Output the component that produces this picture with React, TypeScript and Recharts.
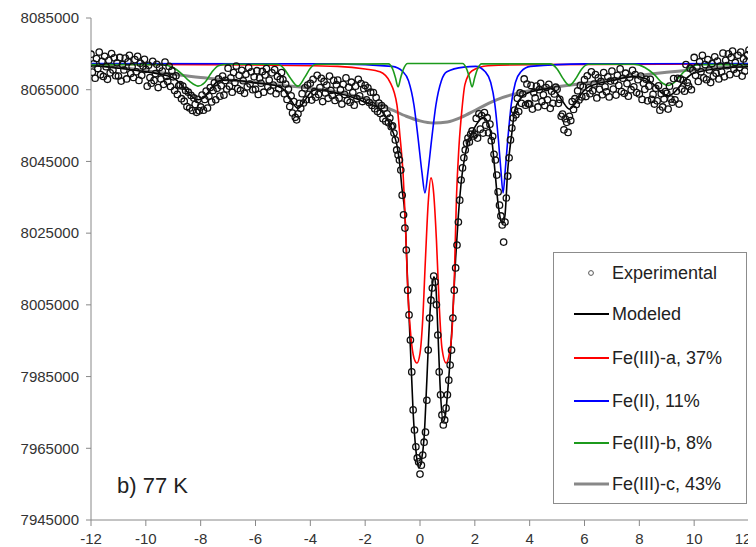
import type { FC } from "react";
import { ComposedChart, Line, Scatter, XAxis, YAxis } from "recharts";

// velocity grid of the experimental channels (mm/s)
const VEL_START = -12;
const VEL_STEP = 0.05;

const experimental = [
  8074900, 8069900, 8072200, 8068200, 8073700, 8070900, 8075500, 8069200, 8072900, 8068700, 8074300, 8071400, 8067900, 8073200, 8069700, 8075100, 8070500, 8073900, 8068900, 8072500,
  8068800, 8074000, 8067400, 8072000, 8070500, 8073800, 8068000, 8072800, 8074600, 8069500, 8071400, 8068400, 8073400, 8070000, 8074300, 8067600, 8072400, 8069000, 8071600, 8073500,
  8070700, 8066000, 8071800, 8068400, 8066800, 8072900, 8067600, 8069500, 8072100, 8065600, 8071200, 8068000, 8070200, 8066500, 8072700, 8068700, 8067300, 8071500, 8065900, 8070300,
  8068600, 8064800, 8068900, 8063700, 8066100, 8066400, 8062500, 8066000, 8061800, 8064800, 8060300, 8064300, 8059900, 8063400, 8059200, 8062700, 8060900, 8058700, 8062300, 8059100,
  8060200, 8063500, 8059300, 8062300, 8064600, 8059900, 8063200, 8065600, 8061600, 8064800, 8066900, 8062200, 8065400, 8068000, 8063200, 8066100, 8068800, 8063500, 8067600, 8065200,
  8071000, 8066000, 8068300, 8064300, 8069800, 8067000, 8071600, 8065300, 8069000, 8064800, 8070400, 8067500, 8064000, 8069300, 8065800, 8071200, 8066600, 8070000, 8065000, 8068600,
  8065100, 8070300, 8063700, 8068300, 8066800, 8070100, 8064300, 8069100, 8070900, 8065800, 8067700, 8064700, 8069700, 8066300, 8070600, 8063900, 8068700, 8065300, 8067900, 8069800,
  8067800, 8063900, 8066600, 8062300, 8065200, 8060300, 8063300, 8058500, 8061700, 8057300, 8056600, 8058300, 8061200, 8059800, 8063900, 8061300, 8065500, 8062200, 8066300, 8063700,
  8066800, 8062100, 8067900, 8064500, 8062900, 8069000, 8063700, 8065600, 8068200, 8061700, 8067300, 8064100, 8066300, 8062600, 8068800, 8064800, 8063400, 8067600, 8062000, 8066400,
  8067700, 8062700, 8065000, 8061000, 8066500, 8063700, 8068300, 8062000, 8065700, 8061500, 8067100, 8064200, 8060700, 8066000, 8062500, 8067900, 8063300, 8066700, 8061700, 8065300,
  8066200, 8062200, 8065500, 8061400, 8064300, 8060600, 8064200, 8059700, 8062800, 8058900, 8061300, 8058400, 8060600, 8056900, 8059900, 8056200, 8058300, 8055800, 8057100, 8054700,
  8054900, 8052900, 8051000, 8048200, 8046800, 8045400, 8042600, 8035600, 8030100, 8026400, 8020300, 8009100, 8002200, 7995200, 7986300, 7975700, 7970100, 7965400, 7962300, 7961200,
  7957800, 7960300, 7963100, 7966700, 7969500, 7978400, 7992400, 8001300, 8006300, 8009700, 8013000, 8011400, 8005000, 7996600, 7986300, 7979900, 7974300, 7971500, 7972900, 7976200,
  7979900, 7984000, 7988200, 7992400, 8001300, 8009100, 8015300, 8021700, 8028100, 8034200, 8039800, 8043200, 8046000, 8048200, 8050100, 8051500, 8050400, 8052600, 8053500, 8052100,
  8052600, 8057000, 8051500, 8058300, 8054000, 8057800, 8052900, 8058600, 8055100, 8057200, 8053000, 8055400, 8050800, 8052000, 8047000, 8045400, 8041200, 8036500, 8032800, 8029800,
  8027300, 8022500, 8028100, 8034800, 8040900, 8046000, 8051000, 8054300, 8057100, 8059300, 8058000, 8062600, 8058900, 8064100, 8061200, 8063800, 8068000, 8060700, 8066600, 8061100,
  8061000, 8066200, 8059600, 8064200, 8062700, 8066000, 8060200, 8065000, 8066800, 8061700, 8063600, 8060600, 8065600, 8062200, 8066500, 8059800, 8064600, 8061200, 8063800, 8065700,
  8065100, 8061200, 8062300, 8057600, 8058200, 8053800, 8056900, 8055900, 8053100, 8057600, 8056400, 8061700, 8059500, 8062500, 8060900, 8064700, 8062100, 8066200, 8063000, 8065800,
  8067800, 8063100, 8068900, 8065500, 8063900, 8070000, 8064700, 8066600, 8069200, 8062700, 8068300, 8065100, 8067300, 8063600, 8069800, 8065800, 8064400, 8068600, 8063000, 8067400,
  8070200, 8065200, 8067500, 8063500, 8069000, 8066200, 8070800, 8064500, 8068200, 8064000, 8069600, 8066700, 8063200, 8068500, 8065000, 8070400, 8065800, 8069200, 8064200, 8067800,
  8063800, 8068800, 8062300, 8066800, 8065100, 8067900, 8061900, 8066000, 8067900, 8062300, 8063700, 8061000, 8065400, 8061900, 8066100, 8059300, 8063900, 8060200, 8062400, 8064500,
  8064000, 8059600, 8066000, 8062400, 8061500, 8068100, 8062200, 8064600, 8068200, 8061000, 8068000, 8065200, 8067600, 8064600, 8072000, 8067000, 8066000, 8071000, 8065000, 8070400,
  8074000, 8069000, 8071300, 8067300, 8072800, 8070000, 8074600, 8068300, 8072000, 8067800, 8073400, 8070500, 8067000, 8072300, 8068800, 8074200, 8069600, 8073000, 8068000, 8071600,
  8070000, 8075200, 8068600, 8073200, 8071700, 8075000, 8069200, 8074000, 8075800, 8070700, 8072600, 8069600, 8074600, 8071200, 8075500, 8068800, 8073600, 8070200, 8072800, 8074700, 8076100,
];

// fitted curves, [velocity, counts]
const modeled: [number, number][] = [
  [-12, 8071800], [-11, 8071000], [-10, 8070000], [-9.4, 8069200], [-9, 8068300], [-8.7, 8066400], [-8.4, 8063600],
  [-8.1, 8062200], [-7.85, 8063000], [-7.6, 8065600], [-7.35, 8067400], [-7, 8067700], [-6, 8066900], [-5.2, 8066000],
  [-4.95, 8064900], [-4.75, 8062600], [-4.45, 8059800], [-4.2, 8062000], [-4, 8064200], [-3.8, 8065000], [-3, 8064000],
  [-2.5, 8063000], [-2, 8061500], [-1.46, 8059500], [-1.17, 8056500], [-1, 8053500], [-0.84, 8049500], [-0.75, 8045000],
  [-0.66, 8037600], [-0.55, 8030000], [-0.45, 8011000], [-0.35, 7993000], [-0.25, 7975000], [-0.15, 7964500],
  [-0.04, 7959500], [0.05, 7961500], [0.15, 7968000], [0.25, 7984000], [0.35, 8001000], [0.45, 8010500], [0.51, 8012800],
  [0.58, 8010000], [0.65, 7998000], [0.75, 7980000], [0.84, 7972500], [0.92, 7974000], [1, 7980000], [1.1, 7990000],
  [1.2, 8003000], [1.3, 8018000], [1.4, 8030000], [1.53, 8041000], [1.65, 8047000], [1.75, 8050500], [1.9, 8053000],
  [2, 8054600], [2.15, 8056300], [2.3, 8057300], [2.48, 8055700], [2.62, 8051000], [2.73, 8042600], [2.85, 8033000],
  [2.95, 8028500], [3.03, 8027800], [3.1, 8030000], [3.2, 8042600], [3.35, 8052900], [3.46, 8059300], [3.72, 8063000],
  [4.08, 8064500], [4.75, 8065300], [5, 8064100], [5.2, 8061800], [5.45, 8059600], [5.7, 8061600], [5.9, 8064000],
  [6.15, 8065800], [7, 8067500], [7.8, 8068700], [8.2, 8068200], [8.55, 8066300], [8.85, 8063900], [9.05, 8063300],
  [9.3, 8064400], [9.6, 8067200], [9.9, 8069300], [10.2, 8070000], [11, 8071000], [12, 8071400],
];

const feIIIa: [number, number][] = [
  [-12, 8072100], [-6, 8071900], [-3, 8071500], [-2, 8070800], [-1.46, 8070000], [-1.1, 8067200], [-0.84, 8060700],
  [-0.73, 8052000], [-0.62, 8042000], [-0.52, 8025000], [-0.44, 8008000], [-0.33, 7996000], [-0.22, 7990200],
  [-0.11, 7988800], [0, 7991500], [0.1, 8001000], [0.2, 8018000], [0.3, 8033500], [0.4, 8040400], [0.5, 8036000],
  [0.6, 8023000], [0.7, 8005000], [0.8, 7993000], [0.95, 7988800], [1.06, 7991000], [1.17, 7998000], [1.25, 8012000],
  [1.33, 8035000], [1.42, 8049000], [1.53, 8059500], [1.64, 8066500], [1.9, 8070300], [2.48, 8071700], [4, 8072000],
  [12, 8072200],
];

const feII: [number, number][] = [
  [-12, 8072300], [-3, 8072200], [-1.02, 8071500], [-0.62, 8070000], [-0.42, 8067500], [-0.22, 8060700], [-0.07, 8051500],
  [0.07, 8042000], [0.18, 8036200], [0.29, 8042000], [0.43, 8051500], [0.58, 8060700], [0.78, 8067500], [0.98, 8070000],
  [1.6, 8071300], [2.03, 8071500], [2.38, 8070000], [2.58, 8067000], [2.73, 8061000], [2.86, 8051000], [2.95, 8042600],
  [3.03, 8036200], [3.11, 8042600], [3.2, 8051000], [3.33, 8061000], [3.48, 8067000], [3.68, 8070000], [4.03, 8071500],
  [6, 8072200], [12, 8072300],
];

const feIIIb: [number, number][] = [
  [-12, 8072000], [-9.4, 8072000], [-9, 8071200], [-8.7, 8069500], [-8.4, 8067300], [-8.1, 8066000], [-7.85, 8067000],
  [-7.6, 8069800], [-7.35, 8071700], [-7, 8072100], [-5.2, 8072100], [-4.95, 8070800], [-4.75, 8068500], [-4.45, 8066000],
  [-4.2, 8068500], [-4, 8071000], [-3.8, 8072100], [-1.15, 8072200], [-1, 8070800], [-0.9, 8068500], [-0.8, 8065800],
  [-0.7, 8068500], [-0.6, 8070800], [-0.45, 8072300], [1.55, 8072300], [1.7, 8070800], [1.8, 8068500], [1.9, 8065800],
  [2, 8068500], [2.1, 8070800], [2.25, 8072200], [4.75, 8072200], [5, 8070800], [5.2, 8068300], [5.45, 8066200],
  [5.7, 8068300], [5.9, 8070800], [6.15, 8072100], [7.8, 8072100], [8.2, 8071200], [8.55, 8069200], [8.85, 8066800],
  [9.05, 8066200], [9.3, 8067200], [9.6, 8069800], [9.9, 8071500], [10.2, 8072000], [12, 8072000],
];

const feIIIc: [number, number][] = [
  [-12, 8072000], [-11, 8071300], [-10, 8070300], [-9, 8069300], [-8, 8068400], [-7, 8067700], [-6, 8067000],
  [-5, 8066200], [-4, 8065400], [-3, 8064300], [-2, 8062500], [-1.5, 8061000], [-1, 8059300], [-0.5, 8057600],
  [0, 8056300], [0.5, 8055700], [1, 8056000], [1.5, 8057300], [2, 8059200], [2.5, 8061200], [3, 8062800], [3.5, 8063900],
  [4, 8064700], [5, 8065800], [6, 8066800], [7, 8067900], [8, 8069000], [9, 8069900], [10, 8070600], [11, 8071200],
  [12, 8071600],
];

const xTicks = [-12, -10, -8, -6, -4, -2, 0, 2, 4, 6, 8, 10, 12];
const yTicks = [7945000, 7965000, 7985000, 8005000, 8025000, 8045000, 8065000, 8085000];

const legendItems = [
  { label: "Experimental", color: "#555", kind: "dot" },
  { label: "Modeled", color: "#000", kind: "line" },
  { label: "Fe(III)-a, 37%", color: "#ff0000", kind: "line" },
  { label: "Fe(II), 11%", color: "#0000ff", kind: "line" },
  { label: "Fe(III)-b, 8%", color: "#1c9a1c", kind: "line" },
  { label: "Fe(III)-c, 43%", color: "#888", kind: "thick" },
];

const FONT = "'Liberation Sans', Arial, sans-serif";
const toPoints = (pairs: [number, number][]) => pairs.map(([x, y]) => ({ x, y }));
const expPoints = experimental.map((y, i) => ({ x: VEL_START + i * VEL_STEP, y }));

const tickStyle = { fontSize: 15, fill: "#333", fontFamily: FONT };

const OpenDot = (props: any) => (
  <circle cx={props.cx} cy={props.cy} r={3.2} fill="none" stroke="#111" strokeWidth={1.3} />
);

// last label sits a little inside the edge, as in the original
const VelocityTick = (props: any) => {
  const { x, y, payload } = props;
  const shift = payload.value === 12 ? -5 : 0;
  return (
    <text x={x + shift} y={y} dy="0.71em" textAnchor="middle" {...tickStyle}>
      {payload.value}
    </text>
  );
};

const LegendBox: FC = () => (
  <div
    style={{
      position: "absolute",
      left: 545,
      top: 244,
      width: 194,
      height: 252,
      boxSizing: "border-box",
      border: "1px solid #8c8c8c",
      background: "#fff",
      fontFamily: FONT,
    }}
  >
    {legendItems.map((item, i) => {
      const cy = [20, 61, 105, 148, 190, 231][i];
      return (
        <div key={item.label} style={{ position: "absolute", left: 0, top: cy - 11, height: 22, width: 190 }}>
          <svg width={58} height={22} style={{ position: "absolute", left: 0, top: 0 }}>
            {item.kind === "dot" ? (
              <circle cx={37} cy={11} r={2.4} fill="none" stroke={item.color} strokeWidth={1} />
            ) : (
              <line x1={20} x2={55} y1={11} y2={11} stroke={item.color} strokeWidth={item.kind === "thick" ? 3 : 2} />
            )}
          </svg>
          <span style={{ position: "absolute", left: 58, top: 0, lineHeight: "22px", fontSize: 18, color: "#222", whiteSpace: "nowrap" }}>
            {item.label}
          </span>
        </div>
      );
    })}
  </div>
);

export default function App() {
  return (
    <div style={{ position: "relative", width: 748, height: 539 }}>
      <style>{"html, body { overflow: hidden; }"}</style>
      <ComposedChart width={748} height={539} margin={{ top: 10, right: 7, bottom: 0, left: 0 }}>
        <XAxis
          type="number"
          dataKey="x"
          domain={[-12, 12]}
          ticks={xTicks}
          allowDataOverflow
          height={27}
          tick={VelocityTick}
          tickSize={6}
          tickMargin={7}
          stroke="#888"
        />
        <YAxis
          type="number"
          dataKey="y"
          domain={[7945000, 8085000]}
          ticks={yTicks}
          allowDataOverflow
          width={83}
          tick={tickStyle}
          tickSize={5}
          tickMargin={7}
          stroke="#888"
        />
        <Scatter data={expPoints} shape={OpenDot} isAnimationActive={false} />
        <Line data={toPoints(feIIIc)} dataKey="y" type="monotone" stroke="#888" strokeWidth={3} dot={false} activeDot={false} isAnimationActive={false} />
        <Line data={toPoints(modeled)} dataKey="y" type="monotone" stroke="#000" strokeWidth={1.6} dot={false} activeDot={false} isAnimationActive={false} />
        <Line data={toPoints(feIIIa)} dataKey="y" type="monotone" stroke="#ff0000" strokeWidth={1.6} dot={false} activeDot={false} isAnimationActive={false} />
        <Line data={toPoints(feII)} dataKey="y" type="monotone" stroke="#0000ff" strokeWidth={1.6} dot={false} activeDot={false} isAnimationActive={false} />
        <Line data={toPoints(feIIIb)} dataKey="y" type="monotone" stroke="#1c9a1c" strokeWidth={1.6} dot={false} activeDot={false} isAnimationActive={false} />
      </ComposedChart>
      <LegendBox />
      <div style={{ position: "absolute", left: 109, top: 467, fontFamily: FONT, fontSize: 22, lineHeight: "22px", color: "#222" }}>
        b) 77 K
      </div>
    </div>
  );
}
